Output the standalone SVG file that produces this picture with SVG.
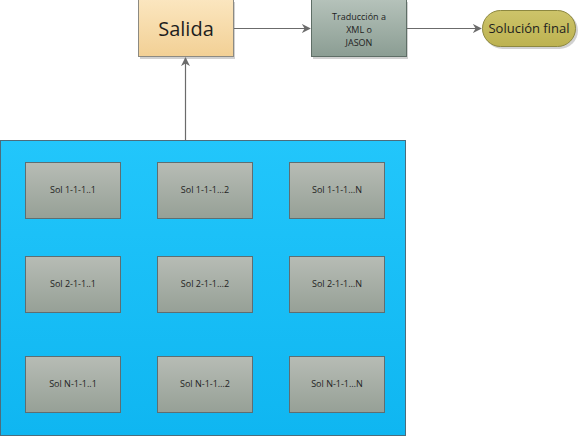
<svg xmlns="http://www.w3.org/2000/svg" width="580" height="438" viewBox="0 0 580 438">
<defs>
<linearGradient id="gSol" x1="0" y1="0" x2="0" y2="1"><stop offset="0" stop-color="#b7bcb5"/><stop offset="1" stop-color="#96a096"/></linearGradient>
<linearGradient id="gSal" x1="0" y1="0" x2="0" y2="1"><stop offset="0" stop-color="#fbe6bf"/><stop offset="1" stop-color="#f2d095"/></linearGradient>
<linearGradient id="gTr" x1="0" y1="0" x2="0" y2="1"><stop offset="0" stop-color="#b5c2ba"/><stop offset="1" stop-color="#8b9d93"/></linearGradient>
<linearGradient id="gBlue" x1="0" y1="0" x2="0" y2="1"><stop offset="0" stop-color="#22c6fb"/><stop offset="1" stop-color="#0fb6f1"/></linearGradient>
<linearGradient id="gFin" x1="0" y1="0" x2="0" y2="1"><stop offset="0" stop-color="#cdc46a"/><stop offset="1" stop-color="#bdb250"/></linearGradient>
<marker id="arr" viewBox="0 0 10 10" refX="9" refY="5" markerWidth="9" markerHeight="9" markerUnits="userSpaceOnUse" orient="auto"><path d="M0,0 L10,5 L0,10 L3,5 z" fill="#6b6b6b"/></marker>
</defs>
<style>
.sol rect{fill:url(#gSol);stroke:#5e6e72;stroke-width:1}
.shadow{fill:#000;opacity:0.18}
text{font-family:"Open Sans","Liberation Sans",sans-serif;fill:#1e1e1e;text-anchor:middle}
.s{font-size:9px}
.c{fill:none;stroke:#6b6b6b;stroke-width:1.2}
</style>
<rect width="580" height="438" fill="#ffffff"/>
<g id="container">
<rect x="0.5" y="140.5" width="405" height="295" fill="url(#gBlue)" stroke="#4c6d7c"/>
</g>
<g id="salida">
<rect x="140" y="2" width="95" height="57" class="shadow"/>
<rect x="138.5" y="-0.5" width="95" height="57" fill="url(#gSal)" stroke="#8c8a82"/>
<text x="186" y="36" style="font-size:20px">Salida</text>
</g>
<g id="traduccion">
<rect x="313" y="2" width="95" height="57" class="shadow"/>
<rect x="311.5" y="-0.5" width="95" height="57" fill="url(#gTr)" stroke="#5e6e66"/>
<text x="359" y="20" class="s">Traducción a</text>
<text x="359" y="33" class="s">XML o</text>
<text x="359" y="46" class="s">JASON</text>
</g>
<g id="solucion">
<rect x="484" y="12" width="94" height="37" rx="18.5" class="shadow"/>
<rect x="482.5" y="10.5" width="93" height="36" rx="18" fill="url(#gFin)" stroke="#8d8840"/>
<text x="529" y="33" style="font-size:13px">Solución final</text>
</g>
<g id="n11" class="sol"><rect x="25.5" y="162.5" width="95" height="56"/><text x="73" y="193" class="s">Sol 1-1-1..1</text></g>
<g id="n12" class="sol"><rect x="157.5" y="162.5" width="95" height="56"/><text x="205" y="193" class="s">Sol 1-1-1…2</text></g>
<g id="n1N" class="sol"><rect x="289.5" y="162.5" width="95" height="56"/><text x="337" y="193" class="s">Sol 1-1-1…N</text></g>
<g id="n21" class="sol"><rect x="25.5" y="256.5" width="95" height="56"/><text x="73" y="287" class="s">Sol 2-1-1..1</text></g>
<g id="n22" class="sol"><rect x="157.5" y="256.5" width="95" height="56"/><text x="205" y="287" class="s">Sol 2-1-1…2</text></g>
<g id="n2N" class="sol"><rect x="289.5" y="256.5" width="95" height="56"/><text x="337" y="287" class="s">Sol 2-1-1…N</text></g>
<g id="nN1" class="sol"><rect x="25.5" y="356.5" width="95" height="56"/><text x="73" y="387" class="s">Sol N-1-1..1</text></g>
<g id="nN2" class="sol"><rect x="157.5" y="356.5" width="95" height="56"/><text x="205" y="387" class="s">Sol N-1-1…2</text></g>
<g id="nNN" class="sol"><rect x="289.5" y="356.5" width="95" height="56"/><text x="337" y="387" class="s">Sol N-1-1…N</text></g>
<g id="connectors">
<line x1="185.5" y1="140" x2="185.5" y2="58" class="c" marker-end="url(#arr)"/>
<line x1="234" y1="28.5" x2="310" y2="28.5" class="c" marker-end="url(#arr)"/>
<line x1="407" y1="28.5" x2="481" y2="28.5" class="c" marker-end="url(#arr)"/>
</g>
</svg>
